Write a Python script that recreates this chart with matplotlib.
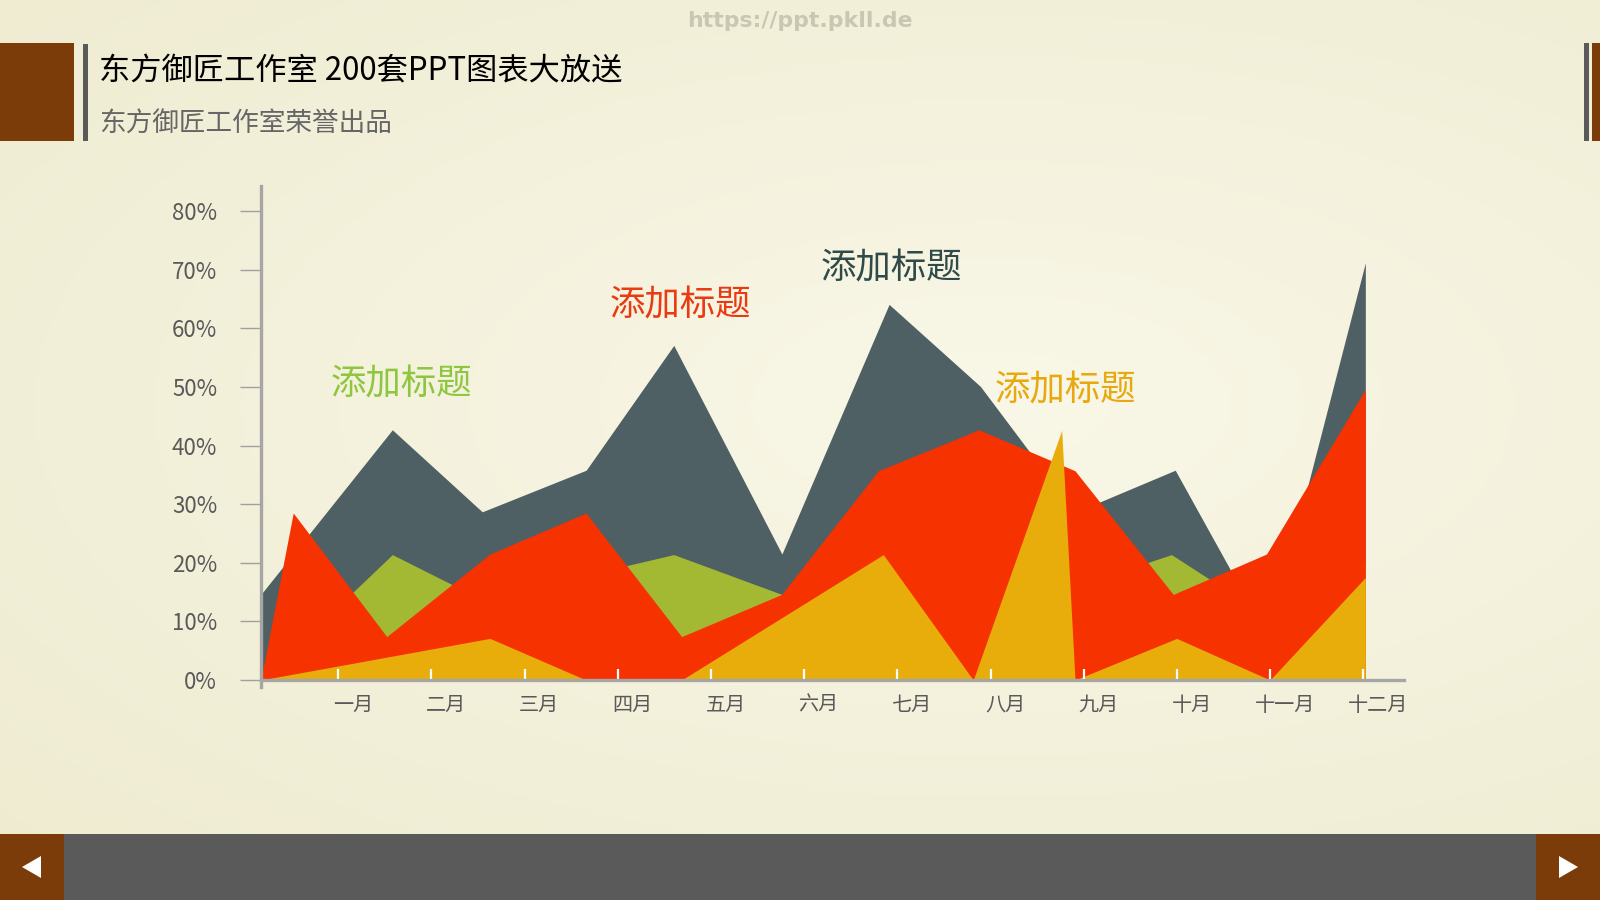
import numpy as np
import matplotlib
matplotlib.use('Agg')
import matplotlib.pyplot as plt
from matplotlib.patches import Rectangle, Polygon
from matplotlib.transforms import ScaledTranslation

plt.rcParams['font.family'] = ['Noto Sans CJK SC', 'DejaVu Sans']

months = ['一月', '二月', '三月', '四月', '五月', '六月',
          '七月', '八月', '九月', '十月', '十一月', '十二月']

# x in month units (一月 = 1), y in percent
gray_x = [0.17, 1.58, 2.545, 3.66, 4.60, 5.76, 6.91, 7.89, 8.905, 9.98, 10.98, 12.02]
gray_y = [14.6, 42.7, 28.7, 35.8, 57.1, 21.5, 64.1, 50.1, 28.6, 35.8, 7.1, 71.2]

green_x = [0.17, 1.58, 2.545, 3.66, 4.60, 5.76, 6.91, 7.89, 8.905, 9.94, 10.98, 12.02]
green_y = [0.0, 21.4, 13.7, 17.9, 21.4, 14.6, 12.0, 14.0, 15.9, 21.4, 10.7, 20.0]

red_x = [0.17, 0.517, 1.52, 2.628, 3.658, 4.684, 5.757, 6.794, 7.874, 8.905, 9.959, 10.96, 12.02]
red_y = [0.0, 28.5, 7.4, 21.5, 28.5, 7.4, 14.6, 35.7, 42.7, 35.7, 14.6, 21.5, 49.6]

yellow_x = [0.17, 2.628, 3.658, 4.684, 6.848, 7.813, 8.762, 8.905, 9.996, 10.997, 12.02]
yellow_y = [0.0, 7.1, 0.0, 0.0, 21.4, 0.0, 42.6, 0.0, 7.1, 0.0, 17.5]

series_colors = ['#4e6064', '#a3b934', '#f53200', '#e9ad0b']

label_text = '添加标题'
label_x = [1.68, 4.675, 6.93, 8.806]
label_y = [50.5, 64.0, 70.3, 49.5]
label_colors = ['#8dc63f', '#ea3a12', '#2f4a49', '#e8a80f']

yticks = [0, 10, 20, 30, 40, 50, 60, 70, 80]

title = '东方御匠工作室 200套PPT图表大放送'
subtitle = '东方御匠工作室荣誉出品'
watermark = 'https://ppt.pkll.de'


def main():
    fig = plt.figure(figsize=(16, 9), dpi=100)

    # background layer in pixel coordinates
    bg = fig.add_axes([0, 0, 1, 1])
    bg.set_xlim(0, 1600)
    bg.set_ylim(900, 0)
    bg.axis('off')
    gx, gy = np.meshgrid(np.linspace(0, 1, 320), np.linspace(0, 1, 180))
    r = np.sqrt(((gx - 0.62) / 0.9) ** 2 + ((gy - 0.45) / 0.75) ** 2)
    r = np.clip(r, 0, 1)[..., None]
    c_in = np.array([249, 247, 231]) / 255
    c_out = np.array([238, 235, 208]) / 255
    img = c_in * (1 - r) + c_out * r
    bg.imshow(img, extent=[0, 1600, 900, 0], aspect='auto', zorder=0)

    brown = '#7b3c0a'
    bar = '#5a5a5a'
    bg.add_patch(Rectangle((0, 43), 74, 98, color=brown, lw=0))
    bg.add_patch(Rectangle((83, 44), 4.5, 97, color=bar, lw=0))
    bg.add_patch(Rectangle((1584, 43), 4.5, 98, color=bar, lw=0))
    bg.add_patch(Rectangle((1592, 43), 8, 98, color=brown, lw=0))
    bg.text(99, 71, title, fontsize=22.5, color='black', va='center', ha='left')
    bg.text(99, 124, subtitle, fontsize=19.2, color='#666666', va='center', ha='left')
    bg.text(800, 21, watermark, fontsize=15.8, color='#c9c7b3', fontweight='bold',
            family='DejaVu Sans', va='center', ha='center')

    # bottom navigation bar
    bg.add_patch(Rectangle((0, 834), 1600, 66, color=bar, lw=0))
    bg.add_patch(Rectangle((0, 834), 64, 66, color=brown, lw=0))
    bg.add_patch(Rectangle((1536, 834), 64, 66, color=brown, lw=0))
    bg.add_patch(Polygon([(22, 867), (41, 856), (41, 878)], color='white', lw=0))
    bg.add_patch(Polygon([(1578, 867), (1559, 856), (1559, 878)], color='white', lw=0))

    # chart
    ax = fig.add_axes([0.16306, 0.2362, 0.71474, 0.5571])
    ax.patch.set_alpha(0)

    data = [(gray_x, gray_y), (green_x, green_y), (red_x, red_y), (yellow_x, yellow_y)]
    for (xs, ys), c in zip(data, series_colors):
        ax.fill_between(xs, np.array(ys) / 100, 0, color=c, lw=0)

    for t_x, t_y, c in zip(label_x, label_y, label_colors):
        ax.text(t_x, t_y / 100, label_text, color=c, fontsize=25.5,
                ha='center', va='center')

    ax.set_xlim(0.17, 12.44)
    ax.set_ylim(-0.0127, 0.843)

    for s in ['top', 'right']:
        ax.spines[s].set_visible(False)
    ax.spines['left'].set_color('#a6a6a6')
    ax.spines['left'].set_linewidth(2.4)
    ax.spines['bottom'].set_color('#a6a6a6')
    ax.spines['bottom'].set_linewidth(2.4)
    ax.spines['bottom'].set_position(('data', 0))

    ax.set_yticks([v / 100 for v in yticks])
    ax.set_yticklabels([f'{v}%' for v in yticks])
    ax.tick_params(axis='y', direction='out', length=15, width=1, color='#a0a0a0',
                   pad=16.5, labelsize=16, labelcolor='#595959')

    ax.set_xticks(range(1, 13))
    ax.set_xticklabels(months)
    ax.tick_params(axis='x', direction='in', length=8, width=1.6, color='white',
                   pad=10.5, labelsize=14.5, labelcolor='#595959')
    offset = ScaledTranslation(0.145, 0, fig.dpi_scale_trans)
    for lab in ax.get_xticklabels():
        lab.set_transform(lab.get_transform() + offset)

    fig.savefig('out.png', dpi=100)


if __name__ == '__main__':
    main()
